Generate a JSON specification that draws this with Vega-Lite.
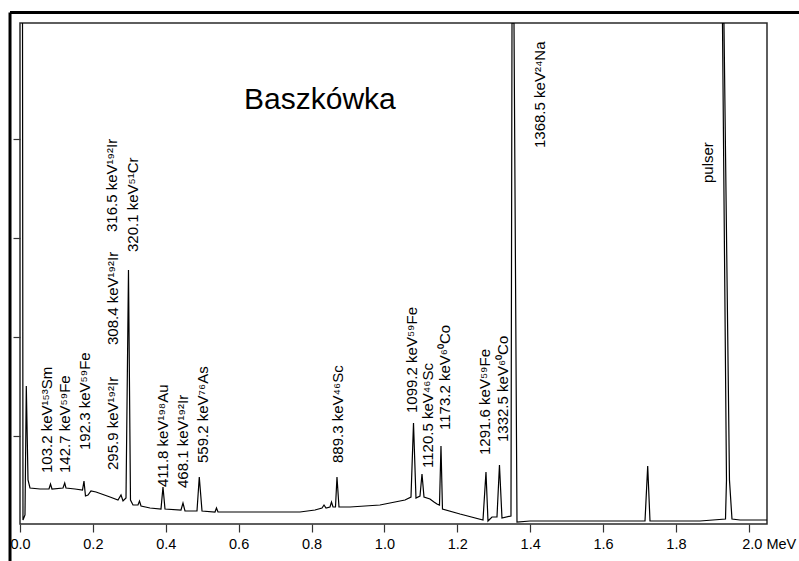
{
  "$schema": "https://vega.github.io/schema/vega-lite/v6.json",
  "width": 747,
  "height": 501,
  "autosize": {"type": "none"},
  "padding": {"left": 20, "top": 23, "right": 32, "bottom": 37},
  "background": "white",
  "config": {"view": {"stroke": "#2a2a2a", "strokeWidth": 1.5}, "font": "Liberation Sans"},
  "datasets": {
    "spectrum": [
      {"e": 0.0069, "c": 501}, {"e": 0.0082, "c": 4}, {"e": 0.0137, "c": 9}, {"e": 0.0173, "c": 138},
      {"e": 0.0220, "c": 44}, {"e": 0.0274, "c": 36}, {"e": 0.0549, "c": 35}, {"e": 0.0796, "c": 35},
      {"e": 0.0837, "c": 40}, {"e": 0.0878, "c": 35}, {"e": 0.1180, "c": 36}, {"e": 0.1227, "c": 41},
      {"e": 0.1262, "c": 36}, {"e": 0.1509, "c": 35}, {"e": 0.1715, "c": 34}, {"e": 0.1756, "c": 43},
      {"e": 0.1797, "c": 28}, {"e": 0.1866, "c": 29}, {"e": 0.1948, "c": 33}, {"e": 0.2086, "c": 32},
      {"e": 0.2470, "c": 27}, {"e": 0.2689, "c": 24}, {"e": 0.2772, "c": 29}, {"e": 0.2827, "c": 23},
      {"e": 0.2909, "c": 26}, {"e": 0.2977, "c": 254}, {"e": 0.3032, "c": 24}, {"e": 0.3101, "c": 19},
      {"e": 0.3238, "c": 19}, {"e": 0.3279, "c": 23}, {"e": 0.3321, "c": 18}, {"e": 0.3568, "c": 16},
      {"e": 0.3869, "c": 15}, {"e": 0.3924, "c": 37}, {"e": 0.3979, "c": 15}, {"e": 0.4418, "c": 14},
      {"e": 0.4473, "c": 21}, {"e": 0.4528, "c": 13}, {"e": 0.4857, "c": 13}, {"e": 0.4920, "c": 47},
      {"e": 0.4995, "c": 13}, {"e": 0.5351, "c": 12}, {"e": 0.5392, "c": 16}, {"e": 0.5434, "c": 12},
      {"e": 0.7684, "c": 12}, {"e": 0.8096, "c": 14}, {"e": 0.8288, "c": 16}, {"e": 0.8343, "c": 19},
      {"e": 0.8398, "c": 16}, {"e": 0.8507, "c": 17}, {"e": 0.8548, "c": 22}, {"e": 0.8590, "c": 17},
      {"e": 0.8658, "c": 17}, {"e": 0.8699, "c": 47}, {"e": 0.8754, "c": 17}, {"e": 0.9056, "c": 17},
      {"e": 0.9879, "c": 19}, {"e": 1.0428, "c": 23}, {"e": 1.0565, "c": 24}, {"e": 1.0730, "c": 27},
      {"e": 1.0799, "c": 101}, {"e": 1.0867, "c": 26}, {"e": 1.0977, "c": 28}, {"e": 1.1032, "c": 50},
      {"e": 1.1087, "c": 27}, {"e": 1.1251, "c": 25}, {"e": 1.1361, "c": 22}, {"e": 1.1443, "c": 20},
      {"e": 1.1512, "c": 19}, {"e": 1.1553, "c": 78}, {"e": 1.1594, "c": 15}, {"e": 1.2075, "c": 10},
      {"e": 1.2706, "c": 4}, {"e": 1.2788, "c": 52}, {"e": 1.2843, "c": 3}, {"e": 1.2953, "c": 7},
      {"e": 1.3090, "c": 7}, {"e": 1.3158, "c": 59}, {"e": 1.3227, "c": 6}, {"e": 1.3474, "c": 8},
      {"e": 1.3502, "c": 501}, {"e": 1.3557, "c": 501}, {"e": 1.3639, "c": 2}, {"e": 1.3996, "c": 3},
      {"e": 1.5917, "c": 3}, {"e": 1.7152, "c": 3}, {"e": 1.7226, "c": 58}, {"e": 1.7289, "c": 3},
      {"e": 1.8661, "c": 3}, {"e": 1.9361, "c": 5}, {"e": 1.9388, "c": 44}, {"e": 1.9278, "c": 501},
      {"e": 1.9319, "c": 501}, {"e": 1.9470, "c": 44}, {"e": 1.9539, "c": 5}, {"e": 1.9759, "c": 4},
      {"e": 2.0500, "c": 4}
    ],
    "labels": [
      {"t": "103.2 keV¹⁵³Sm", "e": 0.0741, "c": 51},
      {"t": "142.7 keV⁵⁹Fe", "e": 0.1235, "c": 51},
      {"t": "192.3 keV⁵⁹Fe", "e": 0.1784, "c": 74},
      {"t": "295.9 keV¹⁹²Ir", "e": 0.2552, "c": 54},
      {"t": "308.4 keV¹⁹²Ir", "e": 0.2552, "c": 179},
      {"t": "316.5 keV¹⁹²Ir", "e": 0.2525, "c": 292},
      {"t": "320.1 keV⁵¹Cr", "e": 0.3101, "c": 272},
      {"t": "411.8 keV¹⁹⁸Au", "e": 0.3924, "c": 37},
      {"t": "468.1 keV¹⁹²Ir", "e": 0.4473, "c": 36},
      {"t": "559.2 keV⁷⁶As", "e": 0.5022, "c": 61},
      {"t": "889.3 keV⁴⁶Sc", "e": 0.8727, "c": 61},
      {"t": "1099.2 keV⁵⁹Fe", "e": 1.0757, "c": 111},
      {"t": "1120.5 keV⁴⁶Sc", "e": 1.1196, "c": 56},
      {"t": "1173.2 keV⁶⁰Co", "e": 1.1663, "c": 94},
      {"t": "1291.6 keV⁵⁹Fe", "e": 1.2761, "c": 69},
      {"t": "1332.5 keV⁶⁰Co", "e": 1.3255, "c": 82},
      {"t": "1368.5 keV²⁴Na", "e": 1.4270, "c": 376},
      {"t": "pulser", "e": 1.8880, "c": 341}
    ],
    "heading": [{"t": "Baszkówka", "e": 0.823, "c": 424}]
  },
  "layer": [
    {
      "data": {"name": "spectrum"},
      "mark": {"type": "line", "color": "black", "strokeWidth": 1.2, "clip": true},
      "encoding": {
        "x": {
          "field": "e", "type": "quantitative",
          "scale": {"domain": [0, 2.05], "nice": false, "zero": false},
          "axis": {
            "values": [0, 0.2, 0.4, 0.6, 0.8, 1.0, 1.2, 1.4, 1.6, 1.8, 2.0],
            "labelExpr": "datum.value > 1.99 ? '2.0 MeV' : format(datum.value, '.1f')",
            "labelAlign": {"condition": {"test": "datum.value > 1.99", "value": "left"}, "value": "center"},
            "labelOffset": {"condition": {"test": "datum.value > 1.99", "value": -7}, "value": 0},
            "domain": false, "grid": false, "tickSize": 8, "tickColor": "#333", "tickWidth": 1.2,
            "labelFontSize": 14.5, "labelColor": "black", "labelPadding": 5, "labelFont": "Liberation Sans",
            "title": null
          }
        },
        "y": {
          "field": "c", "type": "quantitative",
          "scale": {"domain": [0, 501], "nice": false, "zero": false},
          "axis": {
            "values": [88, 187, 286, 385], "labels": false, "domain": false, "grid": false,
            "tickSize": 7, "tickColor": "#333", "tickWidth": 1.2, "title": null
          }
        },
        "order": {"value": null}
      }
    },
    {
      "data": {"name": "labels"},
      "mark": {"type": "text", "angle": 270, "align": "left", "baseline": "middle", "fontSize": 15, "font": "Liberation Sans", "color": "black"},
      "encoding": {
        "x": {"field": "e", "type": "quantitative"},
        "y": {"field": "c", "type": "quantitative"},
        "text": {"field": "t"}
      }
    },
    {
      "data": {"name": "heading"},
      "mark": {"type": "text", "align": "center", "baseline": "middle", "fontSize": 30, "font": "Liberation Sans", "color": "black"},
      "encoding": {
        "x": {"field": "e", "type": "quantitative"},
        "y": {"field": "c", "type": "quantitative"},
        "text": {"field": "t"}
      }
    },
    {
      "data": {"values": [{}]},
      "mark": {"type": "rule", "color": "black", "strokeWidth": 3},
      "encoding": {
        "x": {"datum": -0.0274, "type": "quantitative"},
        "x2": {"datum": 2.1378},
        "y": {"datum": 511.5, "type": "quantitative"}
      }
    },
    {
      "data": {"values": [{}]},
      "mark": {"type": "rule", "color": "black", "strokeWidth": 3},
      "encoding": {
        "x": {"datum": -0.0274, "type": "quantitative"},
        "y": {"datum": 511.5, "type": "quantitative"},
        "y2": {"datum": -37}
      }
    }
  ]
}
